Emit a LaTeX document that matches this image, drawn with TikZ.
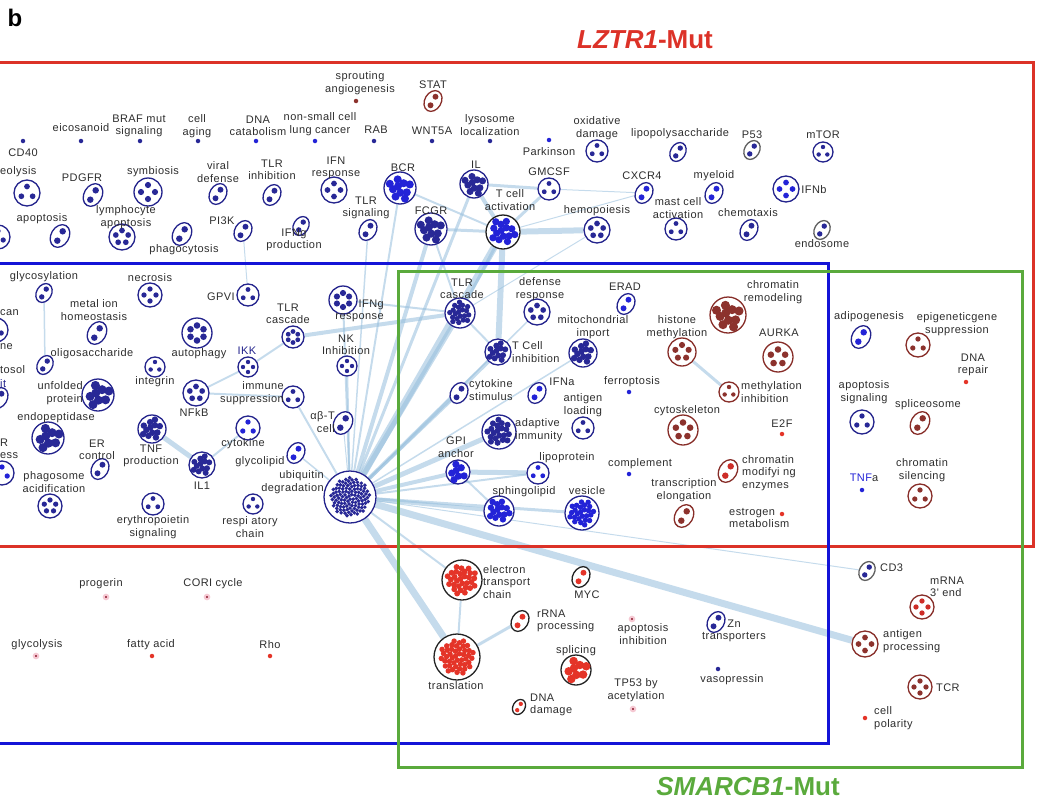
\documentclass[tikz,border=0pt]{standalone}
\usepackage{fontspec}
\setmainfont{Liberation Sans}
\newfontfamily\labfont{Liberation Sans}[LetterSpace=4]
\usetikzlibrary{shapes.geometric,backgrounds}

% colours of the clusters
\definecolor{nvring}{RGB}{35,35,140}
\definecolor{nvdot}{RGB}{40,40,150}
\definecolor{blring}{RGB}{35,35,140}
\definecolor{bldot}{RGB}{35,35,215}
\definecolor{brring}{RGB}{135,45,40}
\definecolor{brdot}{RGB}{140,50,45}
\definecolor{rdring}{RGB}{35,35,35}
\definecolor{rddot}{RGB}{228,52,40}
\definecolor{bxring}{RGB}{135,45,40}
\definecolor{bxdot}{RGB}{205,45,40}
\definecolor{gyring}{RGB}{95,95,95}
\definecolor{gydot}{RGB}{40,40,150}
\definecolor{tkring}{RGB}{30,30,30}
\definecolor{tkdot}{RGB}{35,35,215}
\definecolor{pkcore}{RGB}{150,40,60}
\definecolor{pkhalo}{RGB}{245,200,210}
\definecolor{labc}{RGB}{45,45,45}
\definecolor{edgec}{RGB}{150,190,220}
\definecolor{redbox}{RGB}{220,50,40}
\definecolor{bluebox}{RGB}{20,20,215}
\definecolor{greenbox}{RGB}{90,170,60}

% cluster: name, x, y, radius, dots, kind
\newcommand\clu[6]{%
  \ifnum#5=2
    \node[clus,ellipse,draw=#6ring,minimum width=1.5*#4pt,minimum height=2*#4pt,rotate=-30] (#1) at (#2,#3) {};
  \else
    \node[clus,draw=#6ring,minimum size=2*#4pt] (#1) at (#2,#3) {};
  \fi
  \foreach \k in {1,...,#5}{%
    \pgfmathsetmacro\cra{ifthenelse(#5==1,0,ifthenelse(#5==2,0.45*#4,ifthenelse(#5<7,0.5*#4,0.75*#4*sqrt((\k-0.5)/#5))))}%
    \pgfmathsetmacro\cang{ifthenelse(#5==2,60+180*mod(\k,2),ifthenelse(#5<7,90+360/#5*\k,137.508*\k))}%
    \pgfmathsetmacro\cdr{ifthenelse(#5==1,0.35*#4,ifthenelse(#5==2,0.27*#4,ifthenelse(#5<7,0.22*#4,0.8*#4/sqrt(#5))))}%
    \fill[#6dot] (#2,#3) ++(\cang:\cra pt) circle[radius=\cdr pt];
  }%
}
\newcommand\sdot[4]{\node[sdot,#4] (#1) at (#2,#3) {};}
\newcommand\lab[5][]{\node[lab,#1] (#2t) at (#3,#4) {#5};}

\begin{document}
\begin{tikzpicture}[x=1pt,y=-1pt,
  clus/.style={circle,fill=white,line width=1.3pt,inner sep=0pt},
  sdot/.style={circle,inner sep=0pt,minimum size=4.5pt},
  nvd/.style={fill=nvdot}, bld/.style={fill=bldot}, rdd/.style={fill=rddot},
  brd/.style={fill=brdot}, pkd/.style={fill=pkcore,draw=pkhalo,line width=2pt},
  lab/.style={font=\labfont\fontsize{11}{12.5}\selectfont,align=center,inner sep=0pt,text=labc},
  lnk/.style={draw=edgec,line width=#1,opacity=0.55}, lnk/.default=1pt,
  box/.style={line width=3pt}]
\useasboundingbox (0,0) rectangle (1041,803);
\clip (0,0) rectangle (1041,803);

\node[font=\fontsize{24}{24}\selectfont\bfseries] (panel) at (15,18) {b};
\node[font=\fontsize{26}{26}\selectfont\bfseries,text=redbox] (lztr) at (645,40) {\textit{LZTR1}-Mut};
\node[font=\fontsize{26}{26}\selectfont\bfseries,text=greenbox] (smarc) at (748,787) {\textit{SMARCB1}-Mut};

% the three groups
\draw[box,redbox] (-10,62) rectangle (1033,546);
\draw[box,bluebox] (-10,263) rectangle (828,743);
\draw[box,greenbox] (398,271) rectangle (1022,767);

% top rows
\sdot{cd40}{23}{141}{nvd} \lab{cd40}{23}{153}{CD40}
\sdot{eico}{81}{141}{nvd} \lab{eico}{81}{128}{eicosanoid}
\sdot{braf}{140}{141}{nvd} \lab{braf}{139}{126}{BRAF mut\\signaling}
\sdot{aging}{198}{141}{nvd} \lab{aging}{197}{126}{cell\\aging}
\sdot{dnacat}{256}{141}{bld} \lab{dnacat}{258}{126}{DNA\\catabolism}
\sdot{nsclc}{315}{141}{bld} \lab{nsclc}{320}{124}{non-small cell\\lung cancer}
\sdot{rab}{374}{141}{nvd} \lab{rab}{376}{130}{RAB}
\sdot{sprout}{356}{101}{brd} \lab{sprout}{360}{83}{sprouting\\angiogenesis}
\clu{stat}{433}{101}{11}{2}{br} \lab{stat}{433}{85}{STAT}
\sdot{wnt}{432}{141}{nvd} \lab{wnt}{432}{131}{WNT5A}
\sdot{lyso}{490}{141}{nvd} \lab{lyso}{490}{125}{lysosome\\localization}
\sdot{park}{549}{140}{bld} \lab{park}{549}{152}{Parkinson}
\clu{oxid}{597}{151}{11}{3}{nv} \lab{oxid}{597}{128}{oxidative\\damage}
\clu{lps}{678}{152}{10}{2}{nv} \lab{lps}{680}{134}{lipopolysaccharide}
\clu{p53}{752}{150}{10}{2}{gy} \lab{p53}{752}{135}{P53}
\clu{mtor}{823}{152}{10}{3}{nv} \lab{mtor}{823}{135}{mTOR}

\clu{proteo}{27}{193}{13}{3}{nv} \lab[anchor=west]{proteo}{0}{172}{eolysis}
\clu{pdgfr}{93}{195}{12}{2}{nv} \lab{pdgfr}{82}{178}{PDGFR}
\clu{symb}{148}{192}{14}{4}{nv} \lab{symb}{153}{172}{symbiosis}
\clu{viral}{218}{194}{11}{2}{nv} \lab{viral}{218}{172}{viral\\defense}
\clu{tlrinh}{272}{195}{11}{2}{nv} \lab{tlrinh}{272}{170}{TLR\\inhibition}
\clu{ifnr}{334}{190}{13}{4}{nv} \lab{ifnr}{336}{168}{IFN\\response}
\clu{bcr}{400}{188}{16}{10}{bl} \lab{bcr}{403}{168}{BCR}
\clu{il}{474}{184}{14}{10}{nv} \lab{il}{476}{165}{IL}
\clu{tcact}{503}{232}{17}{14}{tk} \lab{tcact}{510}{200}{T cell\\activation}
\clu{gmcsf}{549}{189}{11}{3}{nv} \lab{gmcsf}{549}{172}{GMCSF}
\clu{cxcr4}{644}{193}{11}{2}{bl} \lab{cxcr4}{642}{176}{CXCR4}
\clu{myel}{714}{193}{11}{2}{bl} \lab{myel}{714}{176}{myeloid}
\clu{ifnb}{786}{189}{13}{4}{bl} \lab{ifnb}{814}{190}{IFNb}
\clu{hemo}{597}{230}{13}{5}{nv} \lab{hemo}{597}{211}{hemopoiesis}
\clu{mast}{676}{229}{11}{3}{nv} \lab{mast}{678}{208}{mast cell\\activation}
\clu{chemo}{749}{230}{11}{2}{nv} \lab{chemo}{748}{213}{chemotaxis}
\clu{endo}{822}{230}{10}{2}{gy} \lab{endo}{822}{244}{endosome}
\clu{edgea}{-2}{237}{12}{3}{nv}
\clu{apop}{60}{236}{12}{2}{nv} \lab{apop}{42}{219}{apoptosis}
\clu{lymap}{122}{237}{13}{5}{nv} \lab{lymap}{126}{217}{lymphocyte\\apoptosis}
\clu{phago}{182}{234}{12}{2}{nv} \lab{phago}{184}{250}{phagocytosis}
\clu{pi3k}{243}{231}{11}{2}{nv} \lab{pi3k}{222}{221}{PI3K}
\clu{ifngp}{301}{226}{10}{2}{nv} \lab{ifngp}{294}{240}{IFNg\\production}
\clu{tlrsig}{368}{230}{11}{2}{nv} \lab{tlrsig}{366}{208}{TLR\\signaling}
\clu{fcgr}{431}{229}{16}{10}{nv} \lab{fcgr}{431}{211}{FCGR}

% blue group
\clu{glyco}{44}{293}{10}{2}{nv} \lab{glyco}{44}{277}{glycosylation}
\clu{edgeb}{-4}{330}{12}{3}{nv} \lab[anchor=west]{edgeb}{0}{313}{can} \lab[anchor=west]{edgebb}{0}{347}{ne}
\clu{edgec}{-1}{398}{11}{2}{nv} \lab[anchor=west]{edgec}{0}{370}{tosol} \lab[anchor=west,text=nvring]{edgecc}{0}{384}{it}
\clu{edged}{2}{473}{12}{3}{bl} \lab[anchor=west]{edged}{0}{443}{R} \lab[anchor=west]{edgedd}{0}{456}{ess}
\clu{necro}{150}{295}{12}{4}{nv} \lab{necro}{150}{278}{necrosis}
\clu{metal}{97}{333}{12}{2}{nv} \lab{metal}{94}{310}{metal ion\\homeostasis}
\clu{gpvi}{248}{295}{11}{3}{nv} \lab{gpvi}{221}{297}{GPVI}
\clu{autoph}{197}{333}{15}{6}{nv} \lab{autoph}{199}{354}{autophagy}
\clu{oligo}{45}{365}{10}{2}{nv} \lab{oligo}{92}{354}{oligosaccharide}
\clu{integ}{155}{367}{10}{3}{nv} \lab{integ}{155}{382}{integrin}
\clu{unfold}{98}{395}{16}{8}{nv} \lab[anchor=east,align=right]{unfold}{83}{393}{unfolded\\protein}
\clu{nfkb}{196}{393}{13}{5}{nv} \lab{nfkb}{194}{413}{NFkB}
\clu{endop}{48}{438}{16}{8}{nv} \lab{endop}{56}{418}{endopeptidase}
\clu{tnf}{152}{429}{14}{12}{nv} \lab{tnf}{151}{456}{TNF\\production}
\clu{erc}{100}{469}{11}{2}{nv} \lab{erc}{97}{450}{ER\\control}
\clu{phagos}{50}{506}{12}{5}{nv} \lab{phagos}{54}{482}{phagosome\\acidification}
\clu{il1}{202}{465}{13}{12}{nv} \lab{il1}{202}{486}{IL1}
\clu{erythro}{153}{504}{11}{3}{nv} \lab{erythro}{153}{527}{erythropoietin\\signaling}
\clu{tlrc1}{293}{337}{11}{6}{nv} \lab{tlrc1}{288}{314}{TLR\\cascade}
\clu{ifngr}{343}{300}{14}{6}{nv} \lab[anchor=east,align=right]{ifngr}{384}{311}{IFNg\\response}
\clu{ikk}{248}{367}{10}{4}{nv} \lab[text=nvring]{ikk}{247}{351}{IKK}
\clu{nkinh}{347}{366}{10}{4}{nv} \lab{nkinh}{346}{345}{NK\\Inhibition}
\clu{immsup}{293}{397}{11}{3}{nv} \lab[anchor=east,align=right]{immsup}{284}{393}{immune\\suppression}
\clu{cytok}{248}{428}{12}{3}{bl} \lab{cytok}{243}{444}{cytokine}
\clu{abt}{343}{423}{12}{2}{nv} \lab[anchor=east,align=right]{abt}{335}{422}{αβ-T\\cell}
\clu{glycol}{296}{453}{11}{2}{bl} \lab{glycol}{260}{462}{glycolipid}
\clu{ubq}{350}{497}{26}{110}{nv} \lab[anchor=east,align=right]{ubq}{324}{482}{ubiquitin\\degradation}
\clu{resp}{253}{504}{10}{3}{nv} \lab{resp}{250}{527}{respi atory\\chain}

% blue and green overlap
\clu{tlrc2}{460}{313}{15}{20}{nv} \lab{tlrc2}{462}{289}{TLR\\cascade}
\clu{defr}{537}{312}{13}{5}{nv} \lab{defr}{540}{289}{defense\\response}
\clu{erad}{626}{304}{11}{2}{bl} \lab{erad}{625}{287}{ERAD}
\clu{mito}{583}{353}{14}{12}{nv} \lab{mito}{593}{327}{mitochondrial\\import}
\clu{tcinh}{498}{352}{13}{12}{nv} \lab[anchor=west,align=left]{tcinh}{512}{352}{T Cell\\inhibition}
\clu{histm}{682}{352}{14}{5}{br} \lab{histm}{677}{327}{histone\\methylation}
\clu{chromr}{728}{315}{18}{10}{br} \lab{chromr}{773}{292}{chromatin\\remodeling}
\clu{aurka}{778}{357}{15}{5}{br} \lab{aurka}{779}{333}{AURKA}
\clu{cytst}{459}{393}{11}{2}{nv} \lab[anchor=west,align=left]{cytst}{469}{390}{cytokine\\stimulus}
\clu{ifna}{537}{393}{11}{2}{bl} \lab{ifna}{562}{382}{IFNa}
\sdot{ferro}{629}{392}{bld} \lab{ferro}{632}{382}{ferroptosis}
\clu{antld}{583}{428}{11}{3}{nv} \lab{antld}{583}{405}{antigen\\loading}
\clu{adapt}{499}{432}{17}{20}{nv} \lab[anchor=west,align=left]{adapt}{515}{430}{adaptive\\immunity}
\clu{methinh}{729}{392}{10}{3}{br} \lab[anchor=west,align=left]{methinh}{741}{392}{methylation\\inhibition}
\clu{cytosk}{683}{430}{15}{5}{br} \lab{cytosk}{687}{411}{cytoskeleton}
\sdot{e2f}{782}{434}{rdd} \lab{e2f}{782}{424}{E2F}
\clu{gpi}{458}{472}{12}{7}{bl} \lab{gpi}{456}{447}{GPI\\anchor}
\clu{lipo}{538}{473}{11}{3}{bl} \lab{lipo}{567}{458}{lipoprotein}
\sdot{compl}{629}{474}{bld} \lab{compl}{640}{464}{complement}
\clu{chrmod}{728}{471}{12}{2}{bx} \lab[anchor=west,align=left]{chrmod}{742}{473}{chromatin\\modifyi ng\\enzymes}
\clu{sphing}{499}{511}{15}{14}{bl} \lab{sphing}{524}{492}{sphingolipid}
\clu{vesic}{582}{513}{17}{25}{bl} \lab{vesic}{587}{491}{vesicle}
\clu{trel}{684}{516}{12}{2}{br} \lab{trel}{684}{490}{transcription\\elongation}
\sdot{estro}{782}{514}{rdd} \lab[anchor=west,align=left]{estro}{729}{518}{estrogen\\metabolism}

% right of the blue group
\clu{adipo}{861}{337}{12}{2}{bl} \lab{adipo}{869}{317}{adipogenesis}
\clu{epig}{918}{345}{12}{3}{br} \lab{epig}{957}{324}{epigeneticgene\\suppression}
\sdot{dnarep}{966}{382}{rdd} \lab{dnarep}{973}{365}{DNA\\repair}
\clu{apsig}{862}{422}{12}{3}{nv} \lab{apsig}{864}{392}{apoptosis\\signaling}
\clu{splic}{920}{423}{12}{2}{br} \lab{splic}{928}{405}{spliceosome}
\sdot{tnfa}{862}{490}{bld} \lab{tnfa}{864}{478}{\textcolor{bldot}{TNF}a}
\clu{chsil}{920}{496}{12}{3}{br} \lab{chsil}{922}{470}{chromatin\\silencing}

% below the red group
\sdot{proger}{106}{597}{pkd} \lab{proger}{101}{584}{progerin}
\sdot{cori}{207}{597}{pkd} \lab{cori}{213}{584}{CORI cycle}
\sdot{glycoly}{36}{656}{pkd} \lab{glycoly}{37}{645}{glycolysis}
\sdot{fatty}{152}{656}{rdd} \lab{fatty}{151}{645}{fatty acid}
\sdot{rho}{270}{656}{rdd} \lab{rho}{270}{645}{Rho}
\clu{etc}{462}{580}{20}{30}{rd} \lab[anchor=west,align=left]{etc}{483}{582}{electron\\transport\\chain}
\clu{myc}{581}{577}{11}{2}{rd} \lab{myc}{587}{595}{MYC}
\clu{rrna}{520}{621}{11}{2}{rd} \lab[anchor=west,align=left]{rrna}{537}{621}{rRNA\\processing}
\sdot{apinh}{632}{619}{pkd} \lab{apinh}{643}{634}{apoptosis\\inhibition}
\clu{zn}{716}{622}{11}{2}{nv} \lab{zn}{734}{631}{Zn\\transporters}
\clu{transl}{457}{657}{23}{45}{rd} \lab{transl}{456}{686}{translation}
\clu{splcg}{576}{670}{15}{8}{rd} \lab{splcg}{576}{651}{splicing}
\sdot{vaso}{718}{669}{nvd} \lab{vaso}{732}{680}{vasopressin}
\clu{dnadm}{519}{707}{8}{2}{rd} \lab[anchor=west,align=left]{dnadm}{530}{705}{DNA\\damage}
\sdot{tp53}{633}{709}{pkd} \lab{tp53}{636}{690}{TP53 by\\acetylation}
\clu{cd3}{867}{571}{10}{2}{gy} \lab[anchor=west]{cd3}{880}{568}{CD3}
\clu{mrna}{922}{607}{12}{4}{bx} \lab[anchor=west,align=left]{mrna}{930}{587}{mRNA\\3' end}
\clu{antpr}{865}{644}{13}{4}{br} \lab[anchor=west,align=left]{antpr}{883}{641}{antigen\\processing}
\clu{tcr}{920}{687}{12}{4}{br} \lab[anchor=west]{tcr}{936}{688}{TCR}
\sdot{cpol}{865}{718}{rdd} \lab[anchor=west,align=left]{cpol}{874}{718}{cell\\polarity}

% links
\begin{pgfonlayer}{background}
\draw[lnk=7pt] (ubq) -- (tcact);
\draw[lnk=5pt] (ubq) -- (tlrc2);
\draw[lnk=4pt] (ubq) -- (tcinh);
\draw[lnk=5pt] (ubq) -- (adapt);
\draw[lnk=4pt] (ubq) -- (gpi);
\draw[lnk=4pt] (ubq) -- (sphing);
\draw[lnk=3pt] (ubq) -- (cytst);
\draw[lnk=3pt] (ubq) -- (vesic);
\draw[lnk=2pt] (ubq) -- (lipo);
\draw[lnk=7pt] (ubq) -- (antpr);
\draw[lnk] (ubq) -- (cd3);
\draw[lnk=7pt] (ubq) -- (transl);
\draw[lnk=2pt] (ubq) -- (etc);
\draw[lnk=4pt] (ubq) -- (fcgr);
\draw[lnk=2pt] (ubq) -- (bcr);
\draw[lnk=3pt] (ubq) -- (il);
\draw[lnk=2pt] (ubq) -- (ifngr);
\draw[lnk=2pt] (ubq) -- (nkinh);
\draw[lnk=1.5pt] (ubq) -- (tlrsig);
\draw[lnk=1.5pt] (ubq) -- (mito);
\draw[lnk=1.5pt] (ubq) -- (defr);
\draw[lnk=2pt] (ubq) -- (immsup);
\draw[lnk=1.5pt] (ubq) -- (glycol);
\draw[lnk] (ubq) -- (abt);
\draw[lnk=6pt] (tcact) -- (tcinh);
\draw[lnk=6pt] (tcact) -- (hemo);
\draw[lnk=4pt] (tcact) -- (il);
\draw[lnk=3pt] (tcact) -- (gmcsf);
\draw[lnk=2pt] (tcact) -- (bcr);
\draw[lnk=3pt] (tcact) -- (fcgr);
\draw[lnk] (tcact) -- (cxcr4);
\draw[lnk=3pt] (tcact) -- (tlrc2);
\draw[lnk=3pt] (il) -- (gmcsf);
\draw[lnk] (gmcsf) -- (cxcr4);
\draw[lnk] (hemo) -- (tlrc2);
\draw[lnk=4pt] (tlrc2) -- (tlrc1);
\draw[lnk=2pt] (tlrc2) -- (ifngr);
\draw[lnk=2pt] (tlrc2) -- (fcgr);
\draw[lnk=2pt] (tcinh) -- (tlrc2);
\draw[lnk=2pt] (tlrc1) -- (ikk);
\draw[lnk=2pt] (nfkb) -- (ikk);
\draw[lnk=2pt] (nfkb) -- (immsup);
\draw[lnk=5pt] (tnf) -- (il1);
\draw[lnk=2pt] (il1) -- (cytok);
\draw[lnk=1.5pt] (glyco) -- (oligo);
\draw[lnk] (gpvi) -- (pi3k);
\draw[lnk=5pt] (gpi) -- (lipo);
\draw[lnk=2pt] (gpi) -- (sphing);
\draw[lnk=3pt] (histm) -- (methinh);
\draw[lnk=3pt] (transl) -- (rrna);
\draw[lnk=2pt] (transl) -- (etc);
\end{pgfonlayer}
\end{tikzpicture}
\end{document}
